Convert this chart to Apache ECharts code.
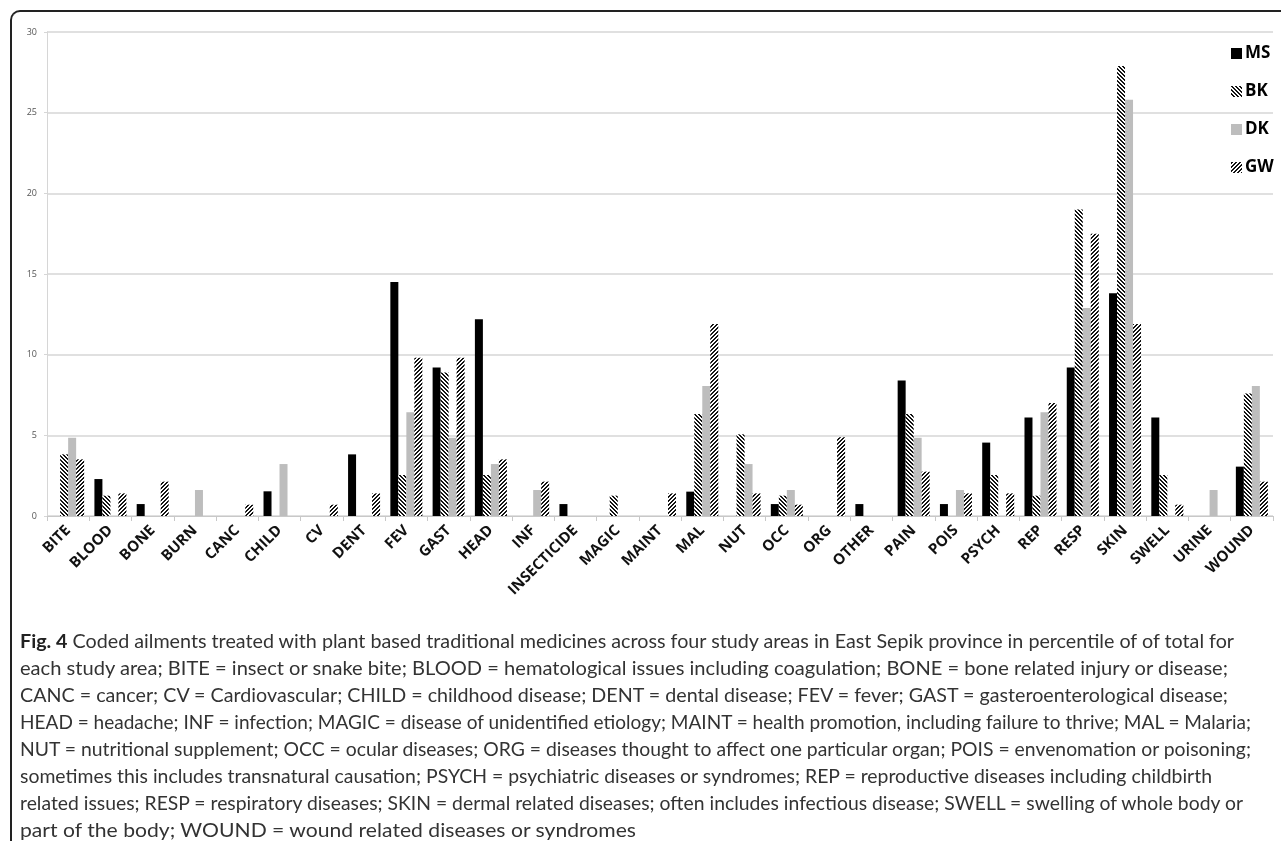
<!DOCTYPE html>
<html>
<head>
<meta charset="utf-8">
<script src="https://cdn.jsdelivr.net/npm/echarts@6/dist/echarts.min.js"></script>
<style>
    html, body { margin: 0; padding: 0; background: #fff; }
    #wrap { position: relative; width: 1281px; height: 841px; overflow: hidden; }
    #chart { position: absolute; left: 0; top: 0; width: 1281px; height: 841px; }
    #frame {
        position: absolute; left: 10px; top: 10px; width: 1300px; height: 900px;
        border-left: 2px solid #222; border-top: 2px solid #222;
        border-top-left-radius: 10px; box-sizing: border-box;
    }
    #caption {
        position: absolute; left: 20px; top: 627px; width: 1258px;
        font-family: Lato, "Open Sans", sans-serif; font-size: 19px; line-height: 27px;
        color: #333; white-space: nowrap;
    }
    #caption .ln { height: 27px; }
    #caption .ln span { display: inline-block; transform-origin: 0 50%; }
    #caption b { color: #222; }
</style>
</head>
<body>
<div id="wrap">
    <div id="frame"></div>
    <div id="chart"></div>
    <div id="caption">
        <div class="ln"><span><b>Fig. 4</b> Coded ailments treated with plant based traditional medicines across four study areas in East Sepik province in percentile of of total for</span></div>
        <div class="ln"><span>each study area; BITE = insect or snake bite; BLOOD = hematological issues including coagulation; BONE = bone related injury or disease;</span></div>
        <div class="ln"><span>CANC = cancer; CV = Cardiovascular; CHILD = childhood disease; DENT = dental disease; FEV = fever; GAST = gasteroenterological disease;</span></div>
        <div class="ln"><span>HEAD = headache; INF = infection; MAGIC = disease of unidentified etiology; MAINT = health promotion, including failure to thrive; MAL = Malaria;</span></div>
        <div class="ln"><span>NUT = nutritional supplement; OCC = ocular diseases; ORG = diseases thought to affect one particular organ; POIS = envenomation or poisoning;</span></div>
        <div class="ln"><span>sometimes this includes transnatural causation; PSYCH = psychiatric diseases or syndromes; REP = reproductive diseases including childbirth</span></div>
        <div class="ln"><span>related issues; RESP = respiratory diseases; SKIN = dermal related diseases; often includes infectious disease; SWELL = swelling of whole body or</span></div>
        <div class="ln"><span>part of the body; WOUND = wound related diseases or syndromes</span></div>
    </div>
</div>
<script>
    const categories = ["BITE", "BLOOD", "BONE", "BURN", "CANC", "CHILD", "CV", "DENT", "FEV", "GAST",
        "HEAD", "INF", "INSECTICIDE", "MAGIC", "MAINT", "MAL", "NUT", "OCC", "ORG", "OTHER",
        "PAIN", "POIS", "PSYCH", "REP", "RESP", "SKIN", "SWELL", "URINE", "WOUND"];

    const ms = [0, 2.29, 0.74, 0, 0, 1.53, 0, 3.82, 14.5, 9.2,
        12.2, 0, 0.74, 0, 0, 1.51, 0, 0.74, 0, 0.74,
        8.4, 0.74, 4.55, 6.1, 9.2, 13.8, 6.1, 0, 3.06];
    const bk = [3.82, 1.26, 0, 0, 0, 0, 0, 0, 2.54, 8.89,
        2.54, 0, 0, 1.26, 0, 6.32, 5.06, 1.26, 0, 0,
        6.32, 0, 2.54, 1.26, 19.0, 27.9, 2.54, 0, 7.6];
    const dk = [4.85, 0, 0, 1.61, 0, 3.22, 0, 0, 6.43, 4.85,
        3.22, 1.61, 0, 0, 0, 8.06, 3.22, 1.61, 0, 0,
        4.85, 1.61, 0, 6.43, 12.9, 25.8, 0, 1.61, 8.06];
    const gw = [3.51, 1.4, 2.13, 0, 0.7, 0, 0.7, 1.4, 9.81, 9.81,
        3.51, 2.13, 0, 0, 1.4, 11.9, 1.4, 0.7, 4.88, 0,
        2.75, 1.4, 1.4, 7.0, 17.5, 11.9, 0.7, 0, 2.13];

    const yTicks = [0, 5, 10, 15, 20, 25, 30];

    // right edge (px) of each caption line in the figure, so the wrap matches
    const captionEnds = [1234, 1228, 1228, 1251, 1251, 1212, 1243, 636];
    const captionLeft = 20;

    document.querySelectorAll("#caption .ln span").forEach((s, i) => {
        const w = s.getBoundingClientRect().width;
        s.style.transform = "scaleX(" + ((captionEnds[i] - captionLeft) / w).toFixed(4) + ")";
    });

    // diagonal stripe tiles, dir 1 = "\" , dir -1 = "/"
    function stripes(dir) {
        const n = 4;
        const c = document.createElement("canvas");
        c.width = n; c.height = n;
        const ctx = c.getContext("2d");
        const img = ctx.createImageData(n, n);
        for (let y = 0; y < n; y++) {
            for (let x = 0; x < n; x++) {
                const k = (((dir > 0 ? x - y : x + y) % n) + n) % n;
                const dark = k < 2;
                const i = (y * n + x) * 4;
                img.data[i] = img.data[i + 1] = img.data[i + 2] = dark ? 20 : 255;
                img.data[i + 3] = 255;
            }
        }
        ctx.putImageData(img, 0, 0);
        return { image: c, repeat: "repeat" };
    }

    const chart = echarts.init(document.getElementById("chart"), null, { renderer: "canvas" });

    const bar = (name, data, color) => ({
        name, type: "bar", data,
        barWidth: 8, barGap: "0%",
        itemStyle: { color },
        emphasis: { disabled: true },
    });

    chart.setOption({
        animation: false,
        backgroundColor: "transparent",
        grid: { left: 47, right: 8, top: 32, bottom: 325, containLabel: false },
        legend: {
            orient: "vertical",
            left: 1226, top: 40,
            itemWidth: 11, itemHeight: 11, itemGap: 21,
            icon: "rect",
            textStyle: { color: "#000", fontSize: 17, fontWeight: "bold", fontFamily: "Open Sans", padding: [0, 0, 0, -2] },
            data: ["MS", "BK", "DK", "GW"],
        },
        xAxis: {
            type: "category",
            data: categories,
            boundaryGap: true,
            axisLine: { lineStyle: { color: "#c8c8c8", width: 1 } },
            axisTick: { show: true, length: 5, lineStyle: { color: "#c8c8c8" } },
            axisLabel: {
                interval: 0, rotate: 45, margin: 12,
                color: "#111", fontSize: 15, fontWeight: "bold", fontFamily: "Open Sans",
            },
            splitLine: { show: false },
        },
        yAxis: {
            type: "value",
            min: yTicks[0], max: yTicks[yTicks.length - 1], interval: yTicks[1] - yTicks[0],
            axisLine: { show: true, lineStyle: { color: "#d6d6d6" } },
            axisTick: { show: true, length: 3, lineStyle: { color: "#d6d6d6" } },
            axisLabel: { color: "#555", fontSize: 9, margin: 10, fontFamily: "Open Sans" },
            splitLine: { lineStyle: { color: "#d6d6d6", width: 1.5 } },
        },
        series: [
            bar("MS", ms, "#000"),
            bar("BK", bk, stripes(1)),
            bar("DK", dk, "#bdbdbd"),
            bar("GW", gw, stripes(-1)),
        ],
    });
</script>
</body>
</html>
